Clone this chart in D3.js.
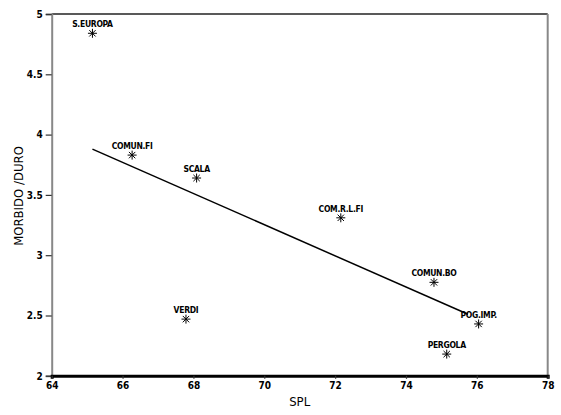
<!DOCTYPE html>
<html>
<head>
<meta charset="utf-8">
<script src="https://cdn.jsdelivr.net/npm/d3@7"></script>
<style>
  html, body { margin: 0; padding: 0; background: #fff; }
  svg { display: block; }
  .tick text { font-family: "DejaVu Sans Condensed", "DejaVu Sans", sans-serif; font-weight: bold; font-size: 10px; fill: #000; }
  .pt-label { font-family: "DejaVu Sans Condensed", "DejaVu Sans", sans-serif; font-weight: bold; font-size: 8.5px; fill: #000; letter-spacing: -0.3px; }
  .axis-title { font-family: "DejaVu Sans Condensed", "DejaVu Sans", sans-serif; font-size: 13px; fill: #000; }
</style>
</head>
<body>
<svg id="chart" width="561" height="415"></svg>
<script>
// Theatres: loudness (SPL) against the soft/hard ratio
const halls    = ["S.EUROPA", "COMUN.FI", "SCALA", "VERDI", "COM.R.L.FI", "COMUN.BO", "POG.IMP.", "PERGOLA"];
const splVals  = [65.15, 66.27, 68.09, 67.79, 72.16, 74.79, 76.05, 75.15];
const ratioVals = [4.84, 3.83, 3.64, 2.47, 3.31, 2.775, 2.43, 2.18];

// Fitted trend line end points
const trendX = [65.15, 75.75];
const trendY = [3.88, 2.51];

const xTicks = [64, 66, 68, 70, 72, 74, 76, 78];
const yTicks = [2, 2.5, 3, 3.5, 4, 4.5, 5];

const svg = d3.select("#chart");
const plotL = 51.7, plotR = 547.7, plotT = 14, plotB = 375.8;

const x = d3.scaleLinear().domain([64, 78]).range([plotL, plotR]);
const y = d3.scaleLinear().domain([2, 5]).range([plotB, plotT]);

// Frame: top and right edges
svg.append("line").attr("x1", plotL).attr("x2", plotR).attr("y1", plotT).attr("y2", plotT)
  .attr("stroke", "#222").attr("stroke-width", 1.5);
svg.append("line").attr("x1", plotR).attr("x2", plotR).attr("y1", plotT).attr("y2", plotB)
  .attr("stroke", "#888").attr("stroke-width", 2);

// Left axis
const yAxis = svg.append("g").attr("transform", `translate(${plotL},0)`)
  .call(d3.axisLeft(y).tickValues(yTicks).tickSize(6).tickPadding(3).tickFormat(d3.format("")));
yAxis.select(".domain").attr("stroke", "#888").attr("stroke-width", 2);
yAxis.selectAll(".tick line").attr("stroke", "#333").attr("stroke-width", 1.2);

// Bottom axis
const xAxis = svg.append("g").attr("transform", `translate(0,${plotB})`)
  .call(d3.axisBottom(x).tickValues(xTicks).tickSize(3).tickPadding(3).tickFormat(d3.format("d")));
xAxis.select(".domain").attr("stroke", "#000").attr("stroke-width", 3);
xAxis.selectAll(".tick line").attr("stroke", "#333").attr("stroke-width", 1.2);

// Axis titles
svg.append("text").attr("class", "axis-title")
  .attr("x", (plotL + plotR) / 2).attr("y", 406).attr("text-anchor", "middle").text("SPL");
svg.append("text").attr("class", "axis-title")
  .attr("transform", `translate(23,196) rotate(-90)`).attr("text-anchor", "middle").text("MORBIDO /DURO");

// Trend line
svg.append("line")
  .attr("x1", x(trendX[0])).attr("y1", y(trendY[0]))
  .attr("x2", x(trendX[1])).attr("y2", y(trendY[1]))
  .attr("stroke", "#000").attr("stroke-width", 1.5);

// Asterisk markers
const r = 4.5;
const starPath = () => {
  const d = r * Math.SQRT1_2;
  return `M${-r},0L${r},0M0,${-r}L0,${r}M${-d},${-d}L${d},${d}M${-d},${d}L${d},${-d}`;
};
const pts = halls.map((h, i) => ({ name: h, sx: splVals[i], sy: ratioVals[i] }));

const g = svg.append("g");
g.selectAll("path.star").data(pts).join("path")
  .attr("class", "star")
  .attr("transform", d => `translate(${x(d.sx)},${y(d.sy)})`)
  .attr("d", starPath())
  .attr("stroke", "#000").attr("stroke-width", 1).attr("fill", "none");

g.selectAll("text.pt-label").data(pts).join("text")
  .attr("class", "pt-label")
  .attr("x", d => x(d.sx))
  .attr("y", d => y(d.sy) - 6)
  .attr("text-anchor", "middle")
  .text(d => d.name);
</script>
</body>
</html>
